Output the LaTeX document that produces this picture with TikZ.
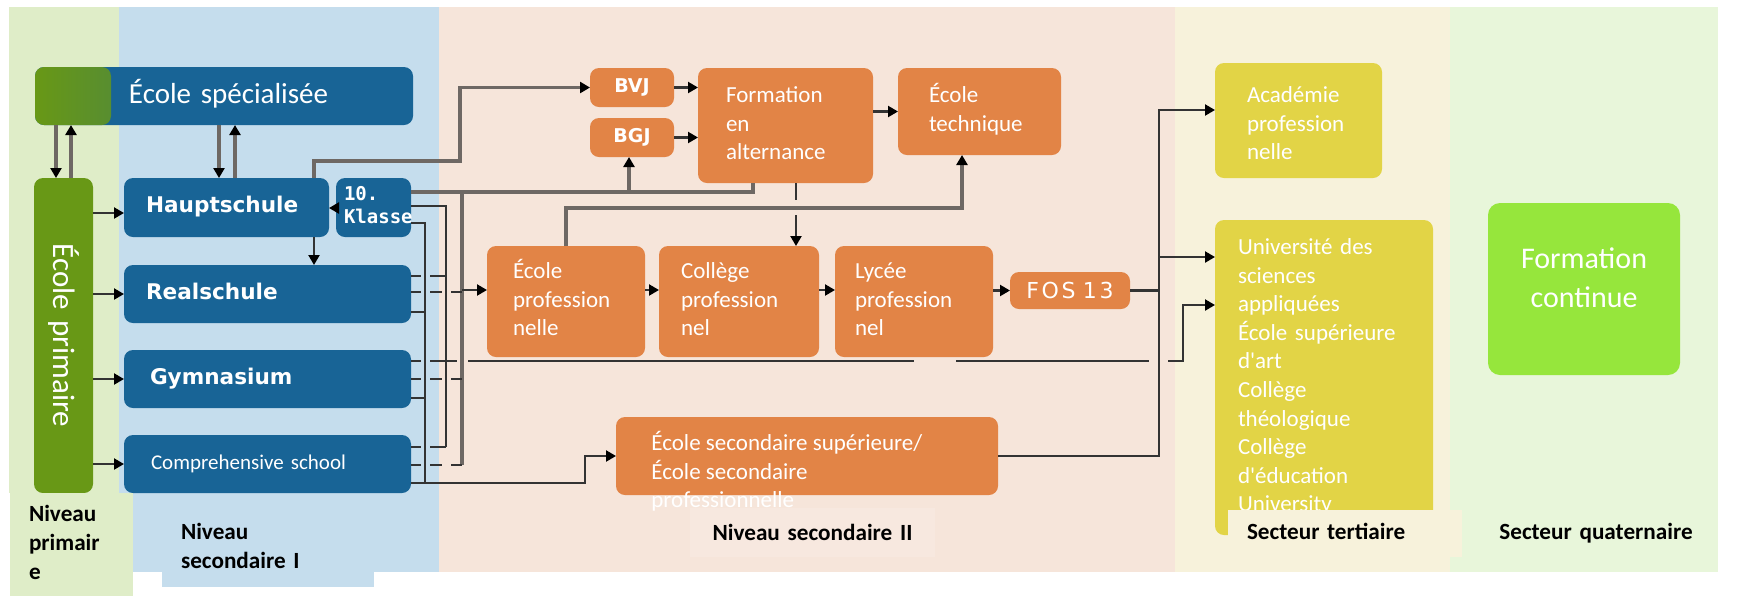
\documentclass[tikz,border=0pt]{standalone}
\usepackage{graphicx}
\usepackage{fontspec}
\setmainfont{Carlito}
\newfontfamily\pixfont{DejaVu Sans}
\newfontfamily\pixwide{DejaVu Sans}[LetterSpace=12]
\newfontfamily\monofnt{DejaVu Sans Mono}
\usetikzlibrary{arrows.meta}
\definecolor{bgPrim}{HTML}{DFEDC8}
\definecolor{bgSecI}{HTML}{C5DDED}
\definecolor{bgSecII}{HTML}{F6E5DA}
\definecolor{bgSecIIlab}{HTML}{F7E8DF}
\definecolor{bgTert}{HTML}{F7F2DB}
\definecolor{bgQuat}{HTML}{E8F6DA}
\definecolor{cBlue}{HTML}{186496}
\definecolor{cGreen}{HTML}{689816}
\definecolor{cOrange}{HTML}{E28446}
\definecolor{cYellow}{HTML}{E2D446}
\definecolor{cLime}{HTML}{96E63C}
\definecolor{lnDark}{HTML}{333333}
\definecolor{lnGrey}{HTML}{6E6864}
\newcommand\mybox[7]{%
  \pgfmathsetmacro\myBW{(#4-#2)*0.5}%
  \pgfmathsetmacro\myBH{(#5-#3)*0.5}%
  \node[inner sep=0pt, outer sep=0pt, anchor=north west, minimum width=\myBW pt,
        minimum height=\myBH pt, text width=\myBW pt, align=left, #6] (#1) at (#2,#3) {#7};}
\newcommand\tx[2]{\hspace*{#1}\begin{tabular}{@{}l@{}}#2\end{tabular}}
\begin{document}
\begin{tikzpicture}[x=0.5pt, y=-0.5pt,
  box/.style={rounded corners=4.5pt, text=white},
  blu/.style={box, fill=cBlue},
  org/.style={box, fill=cOrange, font=\fontsize{11.5}{14.3}\selectfont},
  ylw/.style={box, fill=cYellow, font=\fontsize{11.5}{14.3}\selectfont},
  pix/.style={font=\pixfont\bfseries\fontsize{10.8}{13}\selectfont},
  lab/.style={font=\bfseries\fontsize{11.6}{14.5}\selectfont, text=black},
  ln/.style={draw=lnDark, line width=1.1pt},
  lnthick/.style={draw=lnGrey, line width=1.6pt},
  arr/.style={-{Triangle[length=5pt,width=5.5pt,color=black]}},
  gapA/.style={dash pattern=on 5pt off 4.5pt on 300pt},
  gapB/.style={dash pattern=on 5pt off 4.5pt on 6pt off 4.5pt on 300pt},
  gapGy/.style={dash pattern=on 5pt off 4.5pt on 13.5pt off 5.5pt on 223pt off 21pt on 96.5pt off 9.5pt on 500pt},
]
\useasboundingbox (0,0) rectangle (1741,596);
\fill[white] (0,0) rectangle (1741,596);
% bands
\fill[bgPrim] (9,7) rectangle (119,493);
\fill[bgSecI] (119,7) rectangle (439,572);
\fill[bgSecII] (439,7) rectangle (1175,572);
\fill[bgTert] (1175,7) rectangle (1450,572);
\fill[bgQuat] (1450,7) rectangle (1718,572);
% helper coordinates
\foreach \v in {56,71,219,235,314,425,446,460,462,566,585,629,753,796,962,1159,1183}{\coordinate (X\v) at (\v,0);}
\foreach \v in {110,161,192,206,208,213,223,257,276,290,292,305,312,361,379,398,447,465,483}{\coordinate (Y\v) at (0,\v);}
% nodes
\mybox{esp}{35}{67}{413}{125}{blu, font=\fontsize{14.5}{17}\selectfont,
  path picture={\shade[left color=cGreen, middle color=cGreen, right color=cBlue] (path picture bounding box.south west) rectangle ([xshift=38pt]path picture bounding box.north west);}}{\tx{47pt}{École spécialisée}}
\mybox{epr}{34}{178}{93}{493}{box, fill=cGreen, align=center, font=\fontsize{15.5}{18}\selectfont}{\rotatebox{-90}{École primaire}}
\mybox{hs}{124}{178}{329}{237}{blu, pix}{\tx{11pt}{Hauptschule}}
\mybox{k10}{336}{178}{411}{237}{blu, font=\monofnt\bfseries\fontsize{9.5}{11.5}\selectfont}{\tx{4pt}{10.\\Klasse}}
\mybox{rs}{124}{265}{411}{323}{blu, pix}{\tx{11pt}{Realschule}}
\mybox{gy}{124}{350}{411}{408}{blu, pix}{\tx{13pt}{Gymnasium}}
\mybox{cs}{124}{435}{411}{493}{blu, font=\fontsize{10.5}{13}\selectfont}{\tx{13.5pt}{Comprehensive school}}
\mybox{bvj}{590}{68}{674}{107}{box, fill=cOrange, font=\pixfont\bfseries\fontsize{9.5}{12}\selectfont, align=center}{BVJ}
\mybox{bgj}{590}{118}{674}{157}{box, fill=cOrange, font=\pixfont\bfseries\fontsize{9.5}{12}\selectfont, align=center}{BGJ}
\mybox{fa}{698}{68}{873}{183}{org}{\tx{14pt}{Formation\\en\\alternance}}
\mybox{et}{898}{68}{1061}{155}{org}{\tx{15.5pt}{École\\technique}}
\mybox{ep}{487}{246}{645}{357}{org}{\tx{13pt}{École\\profession\\nelle}}
\mybox{cp}{659}{246}{819}{357}{org}{\tx{11pt}{Collège\\profession\\nel}}
\mybox{lp}{835}{246}{993}{357}{org}{\tx{10pt}{Lycée\\profession\\nel}}
\mybox{fos}{1010}{272}{1130}{309}{box, fill=cOrange, align=center, font=\pixwide\fontsize{11}{13}\selectfont}{FOS 13}
\mybox{ess}{616}{417}{998}{495}{box, fill=cOrange}{}
\node[anchor=north west, inner sep=0pt, text=white, align=left, font=\fontsize{11.5}{14.3}\selectfont] (esst) at (651,431) {École secondaire supérieure/\\École secondaire\\professionnelle};
\mybox{ac}{1215}{63}{1382}{178}{ylw}{\tx{16pt}{\rule{0pt}{15pt}Académie\\profession\\nelle}}
\mybox{un}{1215}{220}{1433}{535}{ylw}{\tx{11.5pt}{Université des\\sciences\\appliquées\\École supérieure\\d\textquotesingle art\\Collège\\théologique\\Collège\\d\textquotesingle éducation\\University}}
\mybox{fc}{1488}{203}{1680}{375}{box, fill=cLime, rounded corners=6pt, align=center, font=\fontsize{15}{19.5}\selectfont}{Formation\\continue\par\vspace*{11.5pt}}
% connectors: spécialisée
\draw[lnthick,arr] (esp.south -| X56) -- (epr.north -| X56);
\draw[lnthick,arr] (epr.north -| X71) -- (esp.south -| X71);
\draw[lnthick,arr] (esp.south -| X219) -- (hs.north -| X219);
\draw[lnthick,arr] (hs.north -| X235) -- (esp.south -| X235);
% primaire -> secondaire I
\draw[ln,arr] (epr.east |- Y213) -- (hs.west |- Y213);
\draw[ln,arr] (epr.east |- rs.west) -- (rs.west);
\draw[ln,arr] (epr.east |- gy.west) -- (gy.west);
\draw[ln,arr] (epr.east |- cs.west) -- (cs.west);
\draw[ln,arr] (hs.south -| X314) -- (rs.north -| X314);
\draw[ln,arr] (k10.west |- Y208) -- (hs.east |- Y208);
% Hauptschule -> BVJ
\draw[lnthick,arr] (hs.north -| X314) -- (X314 |- Y161) -- (X460 |- Y161) -- (X460 |- bvj.west) -- (bvj.west);
% vocational bus
\draw[lnthick] (k10.east |- Y192) -- (X753 |- Y192) -- (X753 |- fa.south);
\draw[lnthick,arr] (X629 |- Y192) -- (bgj.south -| X629);
\draw[lnthick, line width=2pt] (X462 |- Y192) -- (X462 |- Y465);
\draw[ln,gapB] (rs.east |- Y292) -- (X462 |- Y292);
\draw[ln,gapB] (gy.east |- Y379) -- (X462 |- Y379);
\draw[ln,gapB] (cs.east |- Y465) -- (X462 |- Y465);
\draw[ln,arr] (X462 |- Y290) -- (ep.west |- Y290);
% bus to university
\draw[ln] (k10.east |- Y206) -- (X446 |- Y206) -- (X446 |- Y447);
\draw[ln,gapA] (rs.east |- Y276) -- (X446 |- Y276);
\draw[ln,gapA] (cs.east |- Y447) -- (X446 |- Y447);
\draw[ln,arr,gapGy] (gy.east |- Y361) -- (X1183 |- Y361) -- (X1183 |- Y305) -- (un.west |- Y305);
% bus to école secondaire supérieure
\draw[ln] (k10.east |- Y223) -- (X425 |- Y223) -- (X425 |- Y483);
\draw[ln] (rs.east |- Y312) -- (X425 |- Y312);
\draw[ln] (gy.east |- Y398) -- (X425 |- Y398);
\draw[ln,arr] (cs.east |- Y483) -- (X585 |- Y483) -- (X585 |- ess.west) -- (ess.west);
% secondaire II
\draw[lnthick,arr] (ep.north -| X566) -- (X566 |- Y208) -- (X962 |- Y208) -- (et.south -| X962);
\draw[ln,arr,dash pattern=on 8.5pt off 7.5pt on 100pt] (fa.south -| X796) -- (cp.north -| X796);
\draw[ln,arr] (bvj.east) -- (fa.west |- bvj.east);
\draw[ln,arr] (bgj.east) -- (fa.west |- bgj.east);
\draw[ln,arr] (fa.east |- et.west) -- (et.west);
\draw[ln,arr] (ep.east |- Y290) -- (cp.west |- Y290);
\draw[ln,arr] (cp.east |- Y290) -- (lp.west |- Y290);
\draw[ln,arr] (lp.east |- fos.west) -- (fos.west);
% tertiary bus
\draw[ln] (fos.east) -- (X1159 |- fos.east);
\draw[ln,arr] (ess.east) -- (X1159 |- ess.east) -- (X1159 |- Y110) -- (ac.west |- Y110);
\draw[ln,arr] (X1159 |- Y257) -- (un.west |- Y257);
% level labels
\mybox{lprim}{10}{493}{133}{596}{fill=bgPrim, lab}{\tx{9.5pt}{Niveau\\primair\\e}}
\mybox{lsec1}{162}{510}{374}{587}{fill=bgSecI, lab}{\tx{9.5pt}{Niveau\\secondaire I}}
\mybox{lsec2}{690}{508}{935}{557}{fill=bgSecIIlab, lab, align=center}{Niveau secondaire II}
\mybox{lter}{1228}{510}{1462}{557}{fill=bgTert, lab}{\tx{9.5pt}{Secteur tertiaire}}
\mybox{lquat}{1479}{510}{1713}{557}{fill=bgQuat, lab, align=center}{Secteur quaternaire}
\end{tikzpicture}
\end{document}
